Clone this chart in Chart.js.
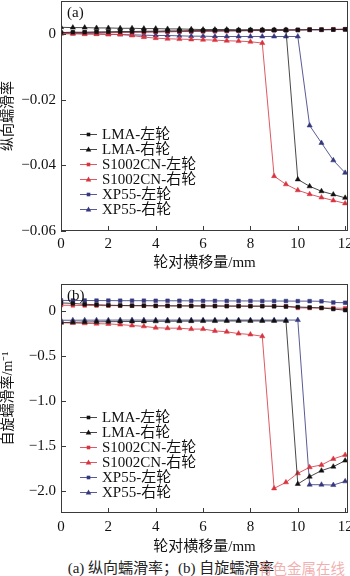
<!DOCTYPE html>
<html><head><meta charset="utf-8">
<script src="https://cdn.jsdelivr.net/npm/chart.js@4"></script>
<style>
html,body{margin:0;padding:0;background:#fff;width:350px;height:576px;overflow:hidden;position:relative}
canvas{position:absolute;left:0}
#ca{top:0}
#cb{top:272px}
#cap{position:absolute;left:0;width:342px;top:556px;height:18px;line-height:18px;text-align:center;font:15px 'Liberation Serif','Noto Sans CJK SC',serif;color:#222;white-space:nowrap}
#wm{position:absolute;left:258px;top:557px;font:14.5px 'Noto Sans CJK SC',sans-serif;color:rgba(236,150,150,0.75);white-space:nowrap}
</style></head>
<body>
<canvas id="ca" width="350" height="272"></canvas>
<canvas id="cb" width="350" height="284"></canvas>
<div id="cap">(a) 纵向蠕滑率；(b) 自旋蠕滑率</div>
<div id="wm">有色金属在线</div>
<script>
// ---- data ----
const xValues = [0,0.5,1,1.5,2,2.5,3,3.5,4,4.5,5,5.5,6,6.5,7,7.5,8,8.5,9,9.5,10,10.5,11,11.5,12];
const xTicks = [0,2,4,6,8,10,12];
const yTicksA = [-0.06,-0.04,-0.02,0];
const yTicksB = [-2.0,-1.5,-1.0,-0.5,0];
const seriesNames = ["LMA-左轮","LMA-右轮","S1002CN-左轮","S1002CN-右轮","XP55-左轮","XP55-右轮"];

// (a) longitudinal creepage
const lmaLeftA = [0.0004,0.0005,0.0005,0.0006,0.0006,0.0007,0.0007,0.0008,0.0008,0.0009,0.0009,0.0010,0.0010,0.0011,0.0011,0.0011,0.0012,0.0012,0.0012,0.0012,0.0012,0.0013,0.0013,0.0013,0.0014];
const lmaRightA = [0.0020,0.0019,0.0019,0.0018,0.0018,0.0017,0.0017,0.0016,0.0016,0.0015,0.0015,0.0014,0.0013,0.0013,0.0013,0.0012,0.0012,0.0012,0.0012,0.0012,-0.0443,-0.0464,-0.0479,-0.0489,-0.0499];
const s1002LeftA = [0.0002,0.0002,0.0003,0.0003,0.0004,0.0004,0.0005,0.0005,0.0006,0.0006,0.0007,0.0008,0.0008,0.0009,0.0009,0.0010,0.0010,0.0011,0.0011,0.0012,0.0012,0.0013,0.0013,0.0014,0.0014];
const s1002RightA = [0.0000,0.0000,-0.0001,-0.0001,-0.0002,-0.0002,-0.0005,-0.0010,-0.0013,-0.0015,-0.0016,-0.0017,-0.0018,-0.0019,-0.0021,-0.0022,-0.0024,-0.0028,-0.0433,-0.0458,-0.0476,-0.0488,-0.0498,-0.0507,-0.0516];
const xp55LeftA = [0.0003,0.0003,0.0004,0.0004,0.0005,0.0005,0.0005,0.0006,0.0006,0.0007,0.0007,0.0007,0.0008,0.0008,0.0009,0.0009,0.0010,0.0010,0.0011,0.0011,0.0012,0.0012,0.0012,0.0013,0.0013];
const xp55RightA = [0.0003,0.0002,0.0001,0.0000,-0.0001,-0.0002,-0.0003,-0.0004,-0.0005,-0.0005,-0.0006,-0.0007,-0.0007,-0.0008,-0.0008,-0.0008,-0.0008,-0.0008,-0.0008,-0.0008,-0.0008,-0.0279,-0.0332,-0.0385,-0.0423];

// (b) spin creepage
const lmaLeftB = [0.090,0.085,0.075,0.070,0.065,0.062,0.060,0.060,0.058,0.058,0.057,0.057,0.056,0.056,0.055,0.055,0.054,0.054,0.053,0.050,0.045,0.040,0.035,0.022,0.010];
const lmaRightB = [-0.128,-0.125,-0.122,-0.120,-0.118,-0.117,-0.116,-0.115,-0.114,-0.113,-0.112,-0.112,-0.111,-0.111,-0.110,-0.110,-0.110,-0.110,-0.110,-0.110,-1.918,-1.837,-1.770,-1.726,-1.659];
const s1002LeftB = [0.065,0.063,0.062,0.061,0.060,0.060,0.059,0.059,0.058,0.058,0.057,0.057,0.056,0.056,0.055,0.055,0.054,0.054,0.054,0.053,0.035,0.034,0.034,0.033,0.030];
const s1002RightB = [-0.130,-0.133,-0.136,-0.140,-0.143,-0.150,-0.160,-0.170,-0.185,-0.190,-0.190,-0.200,-0.200,-0.220,-0.230,-0.250,-0.260,-0.280,-1.967,-1.900,-1.800,-1.733,-1.707,-1.640,-1.596];
const xp55LeftB = [0.118,0.117,0.117,0.116,0.116,0.115,0.115,0.115,0.114,0.114,0.114,0.113,0.113,0.113,0.112,0.112,0.112,0.111,0.111,0.111,0.110,0.110,0.108,0.095,0.092];
const xp55RightB = [-0.102,-0.102,-0.101,-0.101,-0.101,-0.100,-0.100,-0.100,-0.100,-0.100,-0.100,-0.100,-0.100,-0.100,-0.100,-0.100,-0.100,-0.100,-0.100,-0.100,-0.100,-1.926,-1.926,-1.930,-1.889];

// ---- styles ----
const FONT = "'Liberation Serif','Noto Sans CJK SC',serif";
const styles = [
  {color:'#111111', line:'rgba(40,40,40,0.85)', shape:'rect'},
  {color:'#111111', line:'rgba(40,40,40,0.85)', shape:'triangle'},
  {color:'#d8343f', line:'rgba(216,60,70,0.85)', shape:'rect'},
  {color:'#d8343f', line:'rgba(216,60,70,0.85)', shape:'triangle'},
  {color:'#35387e', line:'rgba(60,62,130,0.85)', shape:'rect'},
  {color:'#35387e', line:'rgba(60,62,130,0.85)', shape:'triangle'}
];

function makeDatasets(arrs){
  return arrs.map((arr,i)=>({
    label: seriesNames[i],
    data: arr.map((v,j)=>({x:xValues[j], y:v})),
    borderColor: styles[i].line,
    backgroundColor: styles[i].color,
    pointBorderColor: styles[i].color,
    pointBackgroundColor: styles[i].color,
    borderWidth: 1,
    pointStyle: styles[i].shape,
    pointRadius: styles[i].shape==='rect' ? 2.6 : 3,
    pointBorderWidth: 0.5,
    tension: 0,
    fill: false
  }));
}

function drawMarker(ctx, shape, x, y, color){
  ctx.fillStyle = color;
  ctx.beginPath();
  if (shape==='rect'){ ctx.rect(x-1.8,y-1.8,3.6,3.6); }
  else { ctx.moveTo(x,y-3); ctx.lineTo(x+2.8,y+2); ctx.lineTo(x-2.8,y+2); ctx.closePath(); }
  ctx.fill();
}

const decorPlugin = {
  id:'decor',
  afterDraw(chart){
    const {ctx, chartArea:a, scales:{x,y}} = chart;
    const o = chart.options.plugins.decor;
    ctx.save();
    ctx.strokeStyle='#3a3a3a'; ctx.lineWidth=1;
    ctx.strokeRect(Math.round(a.left)+0.5, Math.round(a.top)+0.5, Math.round(a.right-a.left)-1, Math.round(a.bottom-a.top)-1);
    ctx.beginPath();
    x.ticks.forEach(t=>{ const px=Math.round(x.getPixelForValue(t.value))+0.5; ctx.moveTo(px,a.bottom); ctx.lineTo(px,a.bottom-5); });
    y.ticks.forEach(t=>{ const py=Math.round(y.getPixelForValue(t.value))+0.5; ctx.moveTo(a.left,py); ctx.lineTo(a.left+5,py); });
    ctx.stroke();
    // panel label
    ctx.fillStyle='#111'; ctx.font='15px '+FONT; ctx.textBaseline='middle'; ctx.textAlign='left';
    ctx.fillText(o.panel, a.left+6, a.top+12);
    // legend
    chart.data.datasets.forEach((ds,i)=>{
      const cy = a.top + 133 + 15*i;
      const lx = a.left + 19;
      ctx.strokeStyle = styles[i].line; ctx.lineWidth=1;
      ctx.beginPath(); ctx.moveTo(lx, cy+0.5); ctx.lineTo(lx+17, cy+0.5); ctx.stroke();
      drawMarker(ctx, styles[i].shape, lx+8.5, cy+0.5, styles[i].color);
      ctx.fillStyle='#111'; ctx.font='15px '+FONT; ctx.textBaseline='middle';
      ctx.fillText(ds.label, lx+22, cy+1);
    });
    ctx.restore();
  }
};

function fmt(dec){ return v => (Math.abs(v)<1e-9 ? '0' : (v<0?'\u2212':'') + Math.abs(v).toFixed(dec)); }

function makeChart(id, arrs, yMin, yMax, yTicks, dec, yTitle, panel, padTop, xHeight, tickPad){
  return new Chart(document.getElementById(id), {
    type:'line',
    data:{datasets: makeDatasets(arrs)},
    options:{
      responsive:false, animation:false,
      layout:{autoPadding:false, padding:{top:padTop, right:2, left:0, bottom:0}},
      plugins:{legend:{display:false}, tooltip:{enabled:false}, decor:{panel}},
      scales:{
        x:{type:'linear', min:0, max:12.12,
          afterBuildTicks: s => { s.ticks = xTicks.map(v=>({value:v})); },
          afterFit: s => { s.height = xHeight; s.paddingLeft = 0; s.paddingRight = 0; },
          grid:{display:false, drawTicks:false}, border:{display:false},
          ticks:{padding:tickPad, color:'#111', font:{family:FONT, size:15}, maxRotation:0, callback:v=>String(v)},
          title:{display:true, text:'轮对横移量/mm', color:'#111', font:{family:FONT, size:15}, padding:{top:0,bottom:0}}
        },
        y:{type:'linear', min:yMin, max:yMax,
          afterBuildTicks: s => { s.ticks = yTicks.map(v=>({value:v})); },
          afterFit: s => { s.width = 61; s.paddingTop = 0; s.paddingBottom = 0; },
          grid:{display:false, drawTicks:false}, border:{display:false},
          ticks:{padding:5, color:'#111', font:{family:FONT, size:15}, callback:fmt(dec)},
          title:{display:true, text:yTitle, color:'#111', font:{family:FONT, size:14}, padding:{top:0,bottom:0}}
        }
      }
    },
    plugins:[decorPlugin]
  });
}

makeChart('ca', [lmaLeftA,lmaRightA,s1002LeftA,s1002RightA,xp55LeftA,xp55RightA], -0.06, 0.01, yTicksA, 2, '纵向蠕滑率', '(a)', 1, 41, 4);
makeChart('cb', [lmaLeftB,lmaRightB,s1002LeftB,s1002RightB,xp55LeftB,xp55RightB], -2.24, 0.3, yTicksB, 1, '自旋蠕滑率/m\u207B\u00B9', '(b)', 12, 43, 5);
</script>
</body></html>
